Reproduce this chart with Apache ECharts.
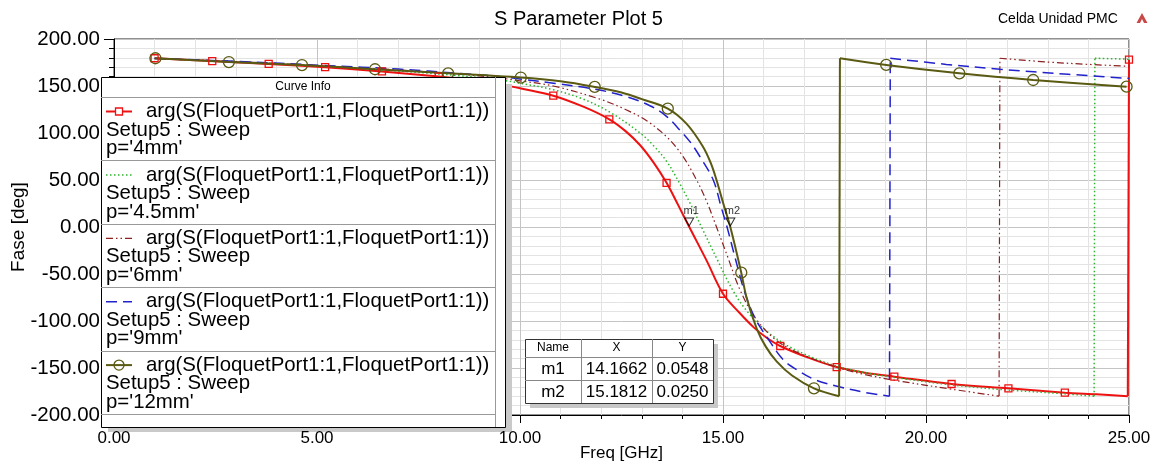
<!DOCTYPE html>
<html><head><meta charset="utf-8">
<script src="https://cdn.jsdelivr.net/npm/echarts/dist/echarts.min.js"></script>
<style>html,body{margin:0;padding:0;background:#fff}#c{width:1157px;height:464px}</style>
</head><body><div id="c"></div>
<script>
// ---------- texts ----------
const titleText = 'S Parameter Plot 5';
const projectText = 'Celda Unidad PMC';
const xName = 'Freq [GHz]';
const yName = 'Fase [deg]';
const exprText = 'arg(S(FloquetPort1:1,FloquetPort1:1))';
const setupText = 'Setup5 : Sweep';
const curveNames = ["p='4mm'", "p='4.5mm'", "p='6mm'", "p='9mm'", "p='12mm'"];

// ---------- axes ----------
const xMin = 0, xMax = 25, xStep = 5;
const yMin = -200, yMax = 200, yStep = 50;

// ---------- data: p = 4mm (red, squares) ----------
const red_f = [1.0, 2.42, 3.81, 5.2, 6.6, 8.0, 9.0, 9.4, 10.0, 10.82, 11.56, 12.2, 12.6, 12.96, 13.3, 13.61, 13.9, 14.17, 14.6, 15.0, 15.4, 15.75, 16.05, 16.41, 17.1, 17.8, 18.5, 19.22, 20.63, 22.03, 23.42, 24.2, 24.97, 25.0];
const red_p = [179.5, 176.5, 173.5, 170.0, 165.5, 160.0, 155.5, 153.0, 147.5, 139.7, 128.0, 114.6, 102.0, 87.0, 68.0, 47.0, 23.0, 0.0, -36.0, -71.0, -91.0, -106.5, -117.0, -126.6, -139.0, -149.0, -155.0, -159.2, -167.0, -171.6, -176.2, -178.0, -180.0, 178.0];
const red_m = [1.0, 2.42, 3.81, 5.2, 6.6, 8.0, 9.4, 10.82, 12.2, 13.61, 15.0, 16.41, 17.8, 19.22, 20.63, 22.03, 23.42, 25.0];

// ---------- p = 4.5mm (green dotted) ----------
const grn_f = [1.0, 3.0, 5.2, 7.0, 8.5, 9.5, 10.0, 10.82, 11.56, 12.22, 12.96, 13.3, 13.61, 13.86, 14.17, 14.47, 14.84, 15.25, 15.6, 16.0, 16.5, 17.1, 17.8, 18.5, 19.22, 20.63, 22.03, 23.42, 24.14, 24.16, 25.0];
const grn_p = [179.3, 175.8, 171.0, 166.0, 161.0, 156.5, 153.0, 146.0, 136.0, 122.0, 100.0, 86.0, 70.0, 52.0, 27.0, 0.0, -33.0, -68.0, -90.0, -108.0, -124.0, -137.0, -148.0, -155.0, -160.0, -168.0, -173.5, -177.5, -180.0, 179.5, 178.5];

// ---------- p = 6mm (dark red dash-dot) ----------
const drd_f = [1.0, 3.0, 5.2, 7.0, 8.5, 9.5, 10.0, 10.82, 11.97, 12.6, 13.12, 13.61, 14.0, 14.35, 14.6, 14.84, 15.1, 15.42, 15.8, 16.3, 16.89, 17.86, 18.5, 19.22, 20.63, 21.8, 21.82, 23.0, 24.0, 25.0];
const drd_p = [179.3, 176.0, 171.3, 167.0, 162.5, 158.5, 155.5, 150.0, 136.0, 125.0, 113.0, 96.0, 76.0, 50.0, 27.0, 0.0, -30.0, -67.0, -97.0, -120.0, -134.5, -150.0, -157.0, -163.0, -172.5, -180.0, 179.5, 175.5, 173.0, 171.0];

// ---------- p = 9mm (blue dashed) ----------
const blu_f = [1.0, 3.0, 5.2, 7.0, 8.5, 9.5, 10.0, 10.82, 11.8, 12.6, 13.2, 13.6, 13.94, 14.2, 14.43, 14.76, 14.95, 15.1, 15.3, 15.54, 15.8, 16.08, 16.49, 16.9, 17.3, 17.86, 18.5, 19.1, 19.12, 20.5, 21.82, 23.5, 25.0];
const blu_p = [179.3, 176.2, 171.8, 168.0, 163.5, 160.0, 157.5, 153.0, 147.0, 139.0, 129.0, 118.0, 103.0, 90.0, 75.0, 50.0, 22.0, 0.0, -33.0, -70.0, -98.0, -117.0, -141.5, -154.0, -163.0, -170.0, -176.0, -180.0, 179.5, 173.0, 167.8, 162.5, 158.0];

// ---------- p = 12mm (olive, circles) ----------
const olv_f = [1.02, 2.83, 4.63, 6.43, 8.23, 10.02, 11.0, 11.84, 12.5, 13.0, 13.64, 14.1, 14.5, 14.7, 14.84, 15.0, 15.18, 15.45, 15.58, 15.83, 16.05, 16.32, 16.7, 17.24, 17.86, 17.88, 19.02, 20.82, 22.64, 24.94];
const olv_p = [179.5, 175.5, 172.3, 167.8, 163.5, 159.0, 155.0, 149.0, 143.0, 136.0, 126.0, 110.0, 86.0, 68.0, 50.0, 26.0, 0.0, -48.6, -75.0, -108.0, -127.0, -143.0, -158.0, -171.6, -180.0, 179.5, 172.4, 163.5, 156.4, 149.3];
const olv_m = [1.02, 2.83, 4.63, 6.43, 8.23, 10.02, 11.84, 13.64, 15.45, 17.24, 19.02, 20.82, 22.64, 24.94];

// ---------- markers ----------
const mkNames = ['m1', 'm2'];
const mkX = [14.1662, 15.1812];
const mkY = [0.0548, 0.0250];

const FONT = '"Liberation Sans", Arial, sans-serif';

const curves = [
  {f: red_f, p: red_p, m: red_m, color: '#ee1111', width: 2, dash: 'solid', symbol: 'rect', size: 7},
  {f: grn_f, p: grn_p, m: [], color: '#2db52d', width: 1.5, dash: [1.5, 2.5]},
  {f: drd_f, p: drd_p, m: [], color: '#8c1f1f', width: 1.2, dash: [7, 3, 1.5, 3, 1.5, 3]},
  {f: blu_f, p: blu_p, m: [], color: '#2222cc', width: 1.5, dash: [11, 6]},
  {f: olv_f, p: olv_p, m: olv_m, color: '#5a5a12', width: 2, dash: 'solid', symbol: 'circle', size: 11}
];

function makeLine(c, data, smooth) {
  return {
    type: 'line', data: data, smooth: smooth ? 0.35 : false,
    xAxisIndex: 0, yAxisIndex: 0,
    symbol: c.symbol || 'none', symbolSize: c.size || 6,
    showSymbol: true, showAllSymbol: true,
    lineStyle: {color: c.color, width: c.width, type: c.dash},
    itemStyle: {color: 'rgba(255,255,255,0)', borderColor: c.color, borderWidth: 1.3},
    emphasis: {disabled: true}, silent: true, animation: false, z: 3
  };
}

const series = [];
curves.forEach(c => {
  let seg = [];
  const flush = () => { if (seg.length) series.push(makeLine(c, seg, true)); seg = []; };
  for (let i = 0; i < c.f.length; i++) {
    if (i > 0 && Math.abs(c.p[i] - c.p[i - 1]) > 180) {
      flush();
      series.push(makeLine(c, [
        {value: [c.f[i - 1], c.p[i - 1]], symbol: 'none'},
        {value: [c.f[i], c.p[i]], symbol: 'none'}], false));
    }
    seg.push({value: [c.f[i], c.p[i]], symbol: c.m.includes(c.f[i]) ? c.symbol : 'none'});
  }
  flush();
});

series.push({
  type: 'scatter', silent: true, z: 10, xAxisIndex: 0, yAxisIndex: 0,
  data: mkX.map((x, i) => ({value: [x, mkY[i]], name: mkNames[i]})),
  symbol: 'triangle', symbolRotate: 180, symbolSize: [9, 8], symbolOffset: [0, -5],
  itemStyle: {color: 'rgba(0,0,0,0)', borderColor: '#000', borderWidth: 1},
  label: {show: true, formatter: p => p.name, position: 'top', distance: 1, offset: [2, 0],
          fontSize: 11, color: '#000', fontFamily: FONT}
});

// ---------- graphics: legend box, marker table, title ----------
const G = [];
const Z = 100;
function txt(x, y, s, size, align, extra) {
  G.push(Object.assign({type: 'text', z: Z + 2, style: {x: x, y: y, text: s, fill: '#000',
    font: size + 'px ' + FONT, textAlign: align || 'left', textVerticalAlign: 'middle'}}, extra || {}));
}
function ln(x1, y1, x2, y2, stroke, w, dash) {
  G.push({type: 'line', z: Z + 1, shape: {x1, y1, x2, y2},
    style: {stroke: stroke, lineWidth: w || 1, lineDash: dash || null}});
}

// title & project
txt(578.5, 19, titleText, 20, 'center');
txt(998, 19, projectText, 14, 'left');
G.push({type: 'polygon', z: Z, shape: {points: [[1142, 13], [1136.5, 23], [1140, 23], [1142, 19], [1144, 23], [1147.5, 23]]},
  style: {fill: '#c94848'}});

// legend box
const LX = 101, LY = 77, LW = 404, LH = 350, rowH = 63.4, headH = 20;
G.push({type: 'rect', z: Z, shape: {x: LX + 7, y: LY + 7, width: LW, height: LH - 2}, style: {fill: '#c9c9c9'}});
G.push({type: 'rect', z: Z, shape: {x: LX + 0.5, y: LY + 0.5, width: LW, height: LH}, style: {fill: '#fff', stroke: '#000', lineWidth: 1}});
ln(495.5, LY, 495.5, LY + LH, '#999', 1);
txt(303, LY + 10, 'Curve Info', 12, 'center');
ln(LX, LY + headH + 0.5, 495, LY + headH + 0.5, '#999', 1);
for (let k = 0; k < 5; k++) {
  const y0 = LY + headH + k * rowH;
  const c = curves[k];
  const yl = y0 + 14.5;
  ln(106, yl, 132, yl, c.color, c.width, c.dash === 'solid' ? null : c.dash);
  if (c.symbol === 'rect') G.push({type: 'rect', z: Z + 2, shape: {x: 115.5, y: yl - 3.5, width: 7, height: 7}, style: {fill: '#fff', stroke: c.color, lineWidth: 1.3}});
  if (c.symbol === 'circle') G.push({type: 'circle', z: Z + 2, shape: {cx: 119, cy: yl, r: 5}, style: {fill: 'rgba(0,0,0,0)', stroke: c.color, lineWidth: 1.3}});
  txt(146, yl, exprText, 20.4, 'left');
  txt(106, y0 + 33, setupText, 20.4, 'left');
  txt(106, y0 + 51.5, curveNames[k], 20.4, 'left');
  const ys = Math.round(y0 + rowH) + 0.5;
  ln(LX, ys, 495, ys, '#999', 1);
}

// marker table
const TX = 525, TY = 339, TW = 188, TH = 64;
const colX = [525, 581, 652, 713];
const rowY = [339, 357, 380, 403];
G.push({type: 'rect', z: Z, shape: {x: TX + 5, y: TY + 5, width: TW, height: TH}, style: {fill: '#c8c8c8'}});
G.push({type: 'rect', z: Z, shape: {x: TX + 0.5, y: TY + 0.5, width: TW, height: TH}, style: {fill: '#fff', stroke: '#333', lineWidth: 1}});
ln(colX[1] + 0.5, TY, colX[1] + 0.5, TY + TH, '#888', 1);
ln(colX[2] + 0.5, TY, colX[2] + 0.5, TY + TH, '#888', 1);
ln(TX, rowY[1] + 0.5, TX + TW, rowY[1] + 0.5, '#888', 1);
ln(TX, rowY[2] + 0.5, TX + TW, rowY[2] + 0.5, '#888', 1);
const colC = [553, 616.5, 682.5];
txt(colC[0], 348, 'Name', 12, 'center');
txt(colC[1], 348, 'X', 12, 'center');
txt(colC[2], 348, 'Y', 12, 'center');
for (let i = 0; i < mkNames.length; i++) {
  const yc = (rowY[i + 1] + rowY[i + 2]) / 2 + 1;
  txt(colC[0], yc, mkNames[i], 17, 'center');
  txt(colC[1], yc, mkX[i].toFixed(4), 17, 'center');
  txt(colC[2], yc, mkY[i].toFixed(4), 17, 'center');
}

const chart = echarts.init(document.getElementById('c'), null, {renderer: 'canvas', width: 1157, height: 464});
chart.setOption({
  animation: false,
  backgroundColor: '#fff',
  grid: {left: 114, right: 28, top: 39, bottom: 49, containLabel: false, outerBoundsMode: 'none',
         show: true, borderColor: '#222', borderWidth: 1, backgroundColor: 'rgba(0,0,0,0)'},
  xAxis: [{
    type: 'value', min: xMin, max: xMax, interval: xStep, position: 'bottom', z: 0,
    name: xName, nameLocation: 'middle', nameGap: 30, nameMoveOverlap: false,
    nameTextStyle: {fontSize: 17, color: '#000', fontFamily: FONT},
    axisLine: {show: true, onZero: false, lineStyle: {color: '#000', width: 1}},
    axisTick: {show: true, inside: false, length: 8, lineStyle: {color: '#000'}},
    minorTick: {show: true, splitNumber: 5, length: 4, lineStyle: {color: '#000'}},
    splitLine: {show: true, lineStyle: {color: '#c4c4c4', width: 1}},
    minorSplitLine: {show: true, lineStyle: {color: '#e3e3e3', width: 1}},
    axisLabel: {show: false}
  }, {
    type: 'value', min: xMin, max: xMax, interval: xStep, position: 'bottom', offset: 0, z: 200,
    axisLine: {show: false, onZero: false}, axisTick: {show: false},
    splitLine: {show: false}, minorTick: {show: false}, minorSplitLine: {show: false},
    axisLabel: {formatter: v => v.toFixed(2), fontSize: 17, color: '#000', fontFamily: FONT, margin: 15}
  }],
  yAxis: {
    type: 'value', min: yMin, max: yMax, interval: yStep,
    name: yName, nameLocation: 'middle', nameGap: 86, nameRotate: 90, nameMoveOverlap: false,
    nameTextStyle: {fontSize: 19, color: '#000', fontFamily: FONT},
    axisLine: {show: true, onZero: false, lineStyle: {color: '#000', width: 1}},
    axisTick: {show: true, inside: false, length: 10, lineStyle: {color: '#000'}},
    minorTick: {show: true, splitNumber: 5, length: 5, lineStyle: {color: '#000'}},
    splitLine: {show: true, lineStyle: {color: '#c4c4c4', width: 1}},
    minorSplitLine: {show: true, lineStyle: {color: '#e3e3e3', width: 1}},
    axisLabel: {formatter: v => v.toFixed(2), fontSize: 20.5, color: '#000', fontFamily: FONT, margin: 14}
  },
  series: series,
  graphic: G
});
</script>
</body></html>
